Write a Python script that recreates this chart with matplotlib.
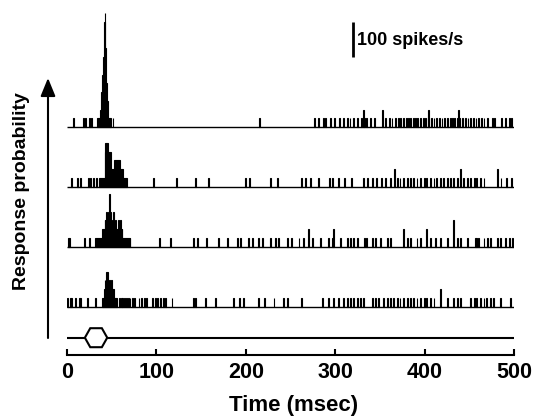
import matplotlib
matplotlib.use("Agg")
import matplotlib.pyplot as plt
from matplotlib.patches import Polygon

plt.rcParams["font.family"] = ["Liberation Sans", "DejaVu Sans"]
plt.rcParams["font.weight"] = "bold"

# ── Data (1 ms bins, rates in spikes/s; single-spike bins = 25 spikes/s) ──
ONE = 25

# row 1 (top)
r1_peak_t = [34, 35, 36, 37, 38, 39, 40, 41, 42, 43, 44, 45, 46, 47, 48]
r1_peak_rate = [25, 25, 25, 50, 100, 150, 200, 300, 325, 225, 125, 75, 25, 25, 25]
r1_bg_t = [7, 18, 20, 25, 27, 51, 215,
           276, 281, 286, 289, 294, 299, 304, 309, 313, 316, 320, 324, 329, 332,
           335, 339, 343, 356, 360, 363, 367, 370, 373, 376, 379, 381, 384, 387,
           389, 392, 395, 398, 401, 404, 407, 410, 413, 416, 419, 422, 425, 428,
           431, 433, 436, 439, 442, 445, 448, 451, 454, 457, 460, 463, 466, 470,
           475, 478, 486, 490, 494, 497]
r1_tall_t = [331, 352, 404, 437]
r1_tall_rate = [50, 50, 50, 50]

# row 2
r2_peak_t = [36, 37, 38, 39, 40, 41, 42, 43, 44, 45, 46, 47, 48, 49, 50, 51,
             52, 53, 54, 55, 56, 57, 58, 59, 60, 61, 62, 63, 64, 65, 66]
r2_peak_rate = [25, 25, 25, 25, 25, 25, 100, 125, 125, 125, 100, 100, 100, 50,
                50, 50, 50, 75, 75, 75, 75, 75, 75, 50, 50, 50, 50, 25, 25, 25, 25]
r2_bg_t = [5, 11, 15, 24, 26, 29, 32, 96, 122, 143, 158, 199, 204, 227, 235,
           262, 266, 272, 281, 293, 296, 303, 310, 318, 331, 336, 341, 346, 351,
           356, 361, 369, 372, 376, 380, 384, 387, 391, 395, 399, 402, 406, 410,
           413, 417, 421, 425, 428, 432, 436, 443, 447, 451, 455, 458, 462, 466,
           485, 491, 497]
r2_tall_t = [366, 440, 481]
r2_tall_rate = [50, 50, 50]

# row 3
r3_peak_t = [31, 32, 33, 34, 35, 36, 37, 38, 39, 40, 41, 42, 43, 44, 45, 46,
             47, 48, 49, 50, 51, 52, 53, 54, 55, 56, 57, 58, 59, 60, 61, 62,
             63, 64, 65, 66, 67, 68, 69, 70]
r3_peak_rate = [25, 25, 25, 25, 25, 25, 25, 25, 50, 50, 50, 75, 75, 100, 75,
                100, 150, 100, 75, 50, 75, 100, 50, 75, 50, 50, 75, 50, 75, 50,
                50, 25, 25, 25, 25, 25, 25, 25, 25, 25]
r3_bg_t = [1, 2, 19, 25, 103, 115, 141, 145, 156, 169, 179, 190, 194, 203, 207,
           214, 218, 227, 233, 236, 246, 251, 259, 264, 274, 283, 292, 296, 305,
           313, 317, 320, 324, 332, 335, 341, 345, 350, 358, 361, 380, 384, 391,
           395, 406, 412, 417, 425, 436, 440, 447, 456, 458, 460, 466, 470, 473,
           481, 484, 490, 494, 498]
r3_tall_t = [270, 298, 376, 402, 432]
r3_tall_rate = [50, 50, 50, 50, 75]

# row 4 (bottom)
r4_peak_t = [40, 41, 42, 43, 44, 45, 46, 47, 48, 49, 50, 51, 52, 53, 54, 55]
r4_peak_rate = [25, 50, 75, 50, 100, 100, 50, 75, 50, 75, 50, 25, 50, 25, 25, 25]
r4_bg_t = [0, 3, 5, 9, 13, 15, 22, 31, 39, 58, 60, 62, 64, 66, 68, 70, 73, 75,
           80, 83, 86, 88, 95, 98, 101, 104, 107, 110, 117, 141, 143, 154, 166,
           186, 192, 197, 214, 220, 231, 242, 246, 262, 285, 292, 298, 303, 309,
           313, 317, 320, 324, 328, 331, 341, 345, 348, 354, 358, 361, 365, 369,
           372, 376, 380, 384, 387, 391, 395, 399, 402, 406, 410, 425, 432, 436,
           440, 451, 455, 458, 462, 466, 469, 473, 477, 484, 496]
r4_tall_t = [417]
r4_tall_rate = [50]

stim_on, stim_off = 20, 45  # ms
x_ticks = [0, 100, 200, 300, 400, 500]

# ── Layout ──
W, H = 537, 420
PX_PER_RATE = 0.35            # 100 spikes/s = 35 px
AX_BOTTOM_PX = 355            # time axis line
row_base_px = [127, 186.7, 246.7, 306.7]
stim_px = 337.7


def to_rate(px_from_top):
    return (AX_BOTTOM_PX - px_from_top) / PX_PER_RATE


fig = plt.figure(figsize=(W / 100, H / 100), dpi=100)
ax = fig.add_axes([67 / W, 1 - AX_BOTTOM_PX / H, 447 / W, AX_BOTTOM_PX / H])
ax.set_xlim(0, 500)
ax.set_ylim(0, AX_BOTTOM_PX / PX_PER_RATE)

rows = [
    (r1_peak_t, r1_peak_rate, r1_bg_t, r1_tall_t, r1_tall_rate),
    (r2_peak_t, r2_peak_rate, r2_bg_t, r2_tall_t, r2_tall_rate),
    (r3_peak_t, r3_peak_rate, r3_bg_t, r3_tall_t, r3_tall_rate),
    (r4_peak_t, r4_peak_rate, r4_bg_t, r4_tall_t, r4_tall_rate),
]

for (pt, pr, bt, tt, tr), bpx in zip(rows, row_base_px):
    base = to_rate(bpx)
    t = list(pt) + list(bt) + list(tt)
    r = list(pr) + [ONE] * len(bt) + list(tr)
    ax.bar(t, r, width=1.0, bottom=base, align="edge",
           color="k", edgecolor="k", linewidth=0.8)
    ax.hlines(base, 0, 500, color="k", lw=1.0)

# stimulus trace with hexagon marker
sb = to_rate(stim_px)
hh = 9.5 / PX_PER_RATE
ax.hlines(sb, 0, 500, color="k", lw=1.5, zorder=1)
hx = [stim_on, stim_on + 6, stim_off - 6, stim_off, stim_off - 6, stim_on + 6]
hy = [sb, sb + hh, sb + hh, sb, sb - hh, sb - hh]
ax.add_patch(Polygon(list(zip(hx, hy)), closed=True, facecolor="white",
                     edgecolor="k", lw=1.5, zorder=3))

# scale bar
sx = (352.7 - 67) / (447 / 500)
sy = to_rate(56.7)
ax.plot([sx, sx], [sy, sy + 100], color="k", lw=2, solid_capstyle="butt")
ax.text(sx + 5, sy + 45, "100 spikes/s", fontsize=13, fontweight="bold",
        va="center", ha="left")

# axes styling
for s in ["top", "right", "left"]:
    ax.spines[s].set_visible(False)
ax.spines["bottom"].set_linewidth(1.5)
ax.set_yticks([])
ax.set_xticks(x_ticks)
ax.set_xticklabels([str(v) for v in x_ticks], fontsize=15.5, fontweight="bold")
ax.tick_params(axis="x", direction="in", length=4, width=1.5, pad=5)
ax.patch.set_visible(False)

fig.text(294 / W, 1 - 405 / H, "Time (msec)", fontsize=16, fontweight="bold",
         ha="center", va="center")
fig.text(21.7 / W, 1 - 191 / H, "Response probability", fontsize=14,
         fontweight="bold", rotation=90, ha="center", va="center")

# response probability arrow
ax.annotate("", xy=(48 / W, 1 - 78 / H), xytext=(48 / W, 1 - 338 / H),
            xycoords="figure fraction", textcoords="figure fraction",
            arrowprops=dict(arrowstyle="-|>,head_length=1.1,head_width=0.45",
                            mutation_scale=10, color="k", lw=1.5,
                            shrinkA=0, shrinkB=0))

fig.savefig("out.png", dpi=100)
